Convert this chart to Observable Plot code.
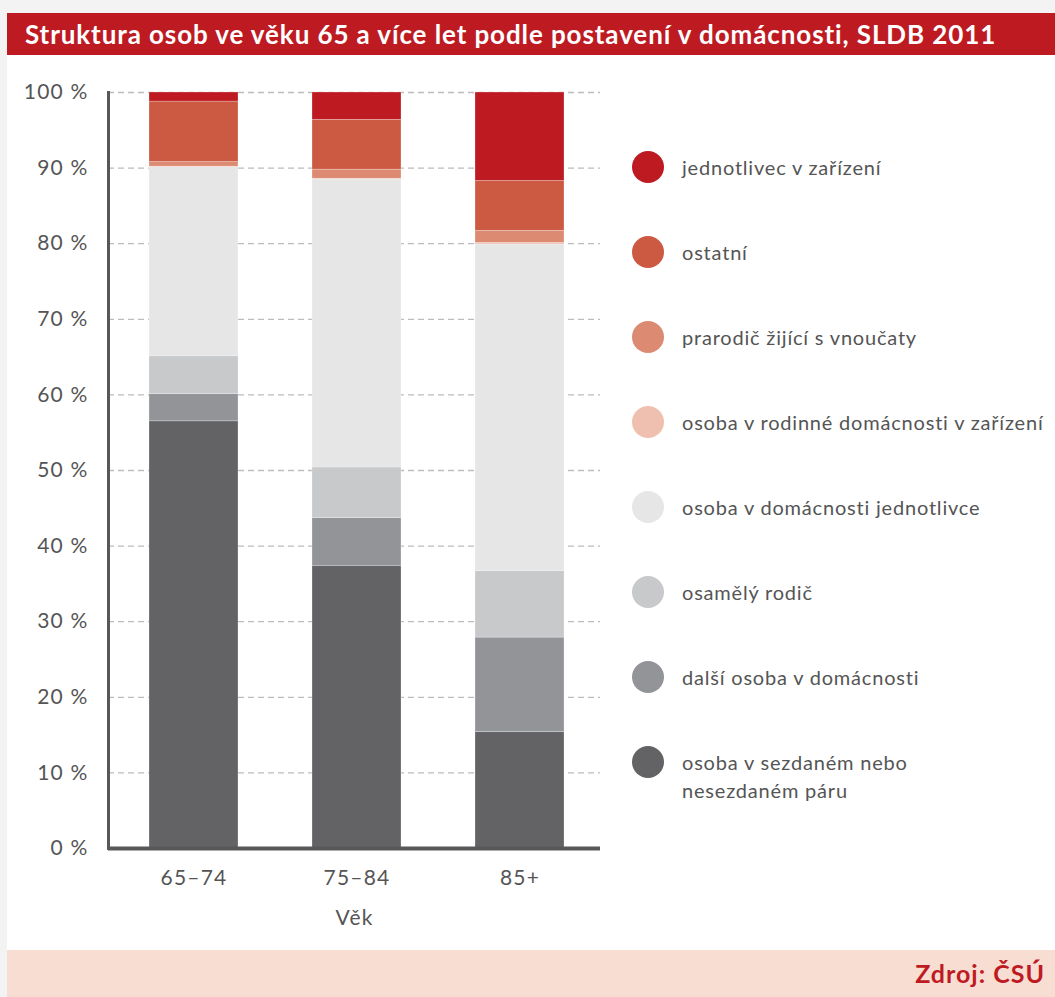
<!DOCTYPE html>
<html><head><meta charset="utf-8">
<script src="https://cdn.jsdelivr.net/npm/d3@7"></script>
<script src="https://cdn.jsdelivr.net/npm/@observablehq/plot@0.6"></script>
<style>
html,body{margin:0;padding:0;background:#f3f3f3;}
body{width:1055px;height:997px;position:relative;overflow:hidden;font-family:Lato,sans-serif;}
#panel{position:absolute;left:7px;top:13px;width:1048px;height:984px;background:#fff;}
#title{height:42px;line-height:42px;background:#be1a22;color:#fff;font-weight:700;font-size:26px;letter-spacing:0.9px;padding-left:18px;white-space:nowrap;}
#chart{position:absolute;left:0;top:42px;}
#legend{position:absolute;left:625px;top:111.5px;}
.item{position:relative;height:85px;width:420px;}
.item .dot{position:absolute;left:0;top:26.5px;width:32px;height:32px;border-radius:50%;}
.item .lab{position:absolute;left:50px;top:28.5px;line-height:28px;font-size:20px;letter-spacing:0.8px;color:#555;white-space:nowrap;}
#footer{position:absolute;left:0;top:937px;width:1048px;height:47px;background:#f8ddd3;}
#footer span{position:absolute;right:10px;top:0;line-height:47px;color:#be1a22;font-weight:700;font-size:25px;letter-spacing:1px;}
</style></head>
<body>
<div id="panel">
  <div id="title">Struktura osob ve věku 65 a více let podle postavení v domácnosti, SLDB 2011</div>
  <div id="chart"></div>
  <div id="legend"></div>
  <div id="footer"><span>Zdroj: ČSÚ</span></div>
</div>
<script>
const ages = ["65–74", "75–84", "85+"];
// stacking order from bottom to top
const categories = [
  "osoba v sezdaném nebo nesezdaném páru",
  "další osoba v domácnosti",
  "osamělý rodič",
  "osoba v domácnosti jednotlivce",
  "osoba v rodinné domácnosti v zařízení",
  "prarodič žijící s vnoučaty",
  "ostatní",
  "jednotlivec v zařízení"
];
const colors = ["#636365", "#939497", "#c8c9cb", "#e6e6e6", "#efc0b0", "#dc8a72", "#cc5a42", "#be1a22"];
const legendLabels = [
  "osoba v sezdaném nebo<br>nesezdaném páru",
  "další osoba v domácnosti",
  "osamělý rodič",
  "osoba v domácnosti jednotlivce",
  "osoba v rodinné domácnosti v zařízení",
  "prarodič žijící s vnoučaty",
  "ostatní",
  "jednotlivec v zařízení"
];
const pair = [56.5, 37.4, 15.4];
const otherPerson = [3.6, 6.3, 12.5];
const singleParent = [5.0, 6.7, 8.8];
const singleHousehold = [25.0, 38.1, 43.2];
const familyInstitution = [0.1, 0.1, 0.2];
const grandparent = [0.6, 1.2, 1.6];
const others = [8.0, 6.6, 6.6];
const individualInstitution = [1.2, 3.6, 11.7];
const yTicks = [0, 10, 20, 30, 40, 50, 60, 70, 80, 90, 100];
const gridTicks = [10, 20, 30, 40, 50, 60, 70, 80, 90, 100];

const series = [pair, otherPerson, singleParent, singleHousehold, familyInstitution, grandparent, others, individualInstitution];
const rows = categories.flatMap((c, i) => ages.map((a, j) => ({age: a, category: c, value: series[i][j]})));

const chart = Plot.plot({
  width: 600, height: 895,
  marginTop: 37, marginBottom: 102, marginLeft: 101, marginRight: 7,
  style: {fontFamily: "Lato, sans-serif", fontSize: "21px", letterSpacing: "1.2px", color: "#555", background: "transparent"},
  x: {domain: ages, paddingInner: 0.457, paddingOuter: 0.2287, align: 0.533, label: "Věk"},
  y: {domain: [0, 100], label: null},
  color: {domain: categories, range: colors},
  marks: [
    Plot.ruleY(gridTicks, {stroke: "#bcbcbc", strokeWidth: 1.3, strokeDasharray: "6,4"}),
    Plot.barY(rows, {x: "age", y: "value", z: "category", fill: "category", stroke: "#fff", strokeWidth: 0.5, strokeOpacity: 0.5}),
    Plot.ruleY([0], {stroke: "#58585a", strokeWidth: 4}),
    Plot.frame({anchor: "left", stroke: "#58585a", strokeWidth: 3}),
    Plot.axisY({ticks: yTicks, tickSize: 0, tickPadding: 20, tickFormat: d => d + "\u00a0%", label: null, fontSize: 21, fill: "#555"}),
    Plot.axisX({tickSize: 0, tickPadding: 22, fontSize: 21, fill: "#555", label: "Věk", labelAnchor: "center", labelOffset: 76})
  ]
});
document.getElementById("chart").appendChild(chart);

const legend = d3.select("#legend");
for (let i = categories.length - 1; i >= 0; i--) {
  const it = legend.append("div").attr("class", "item");
  it.append("div").attr("class", "dot").style("background", colors[i]);
  it.append("div").attr("class", "lab").html(legendLabels[i]);
}
</script>
</body></html>
